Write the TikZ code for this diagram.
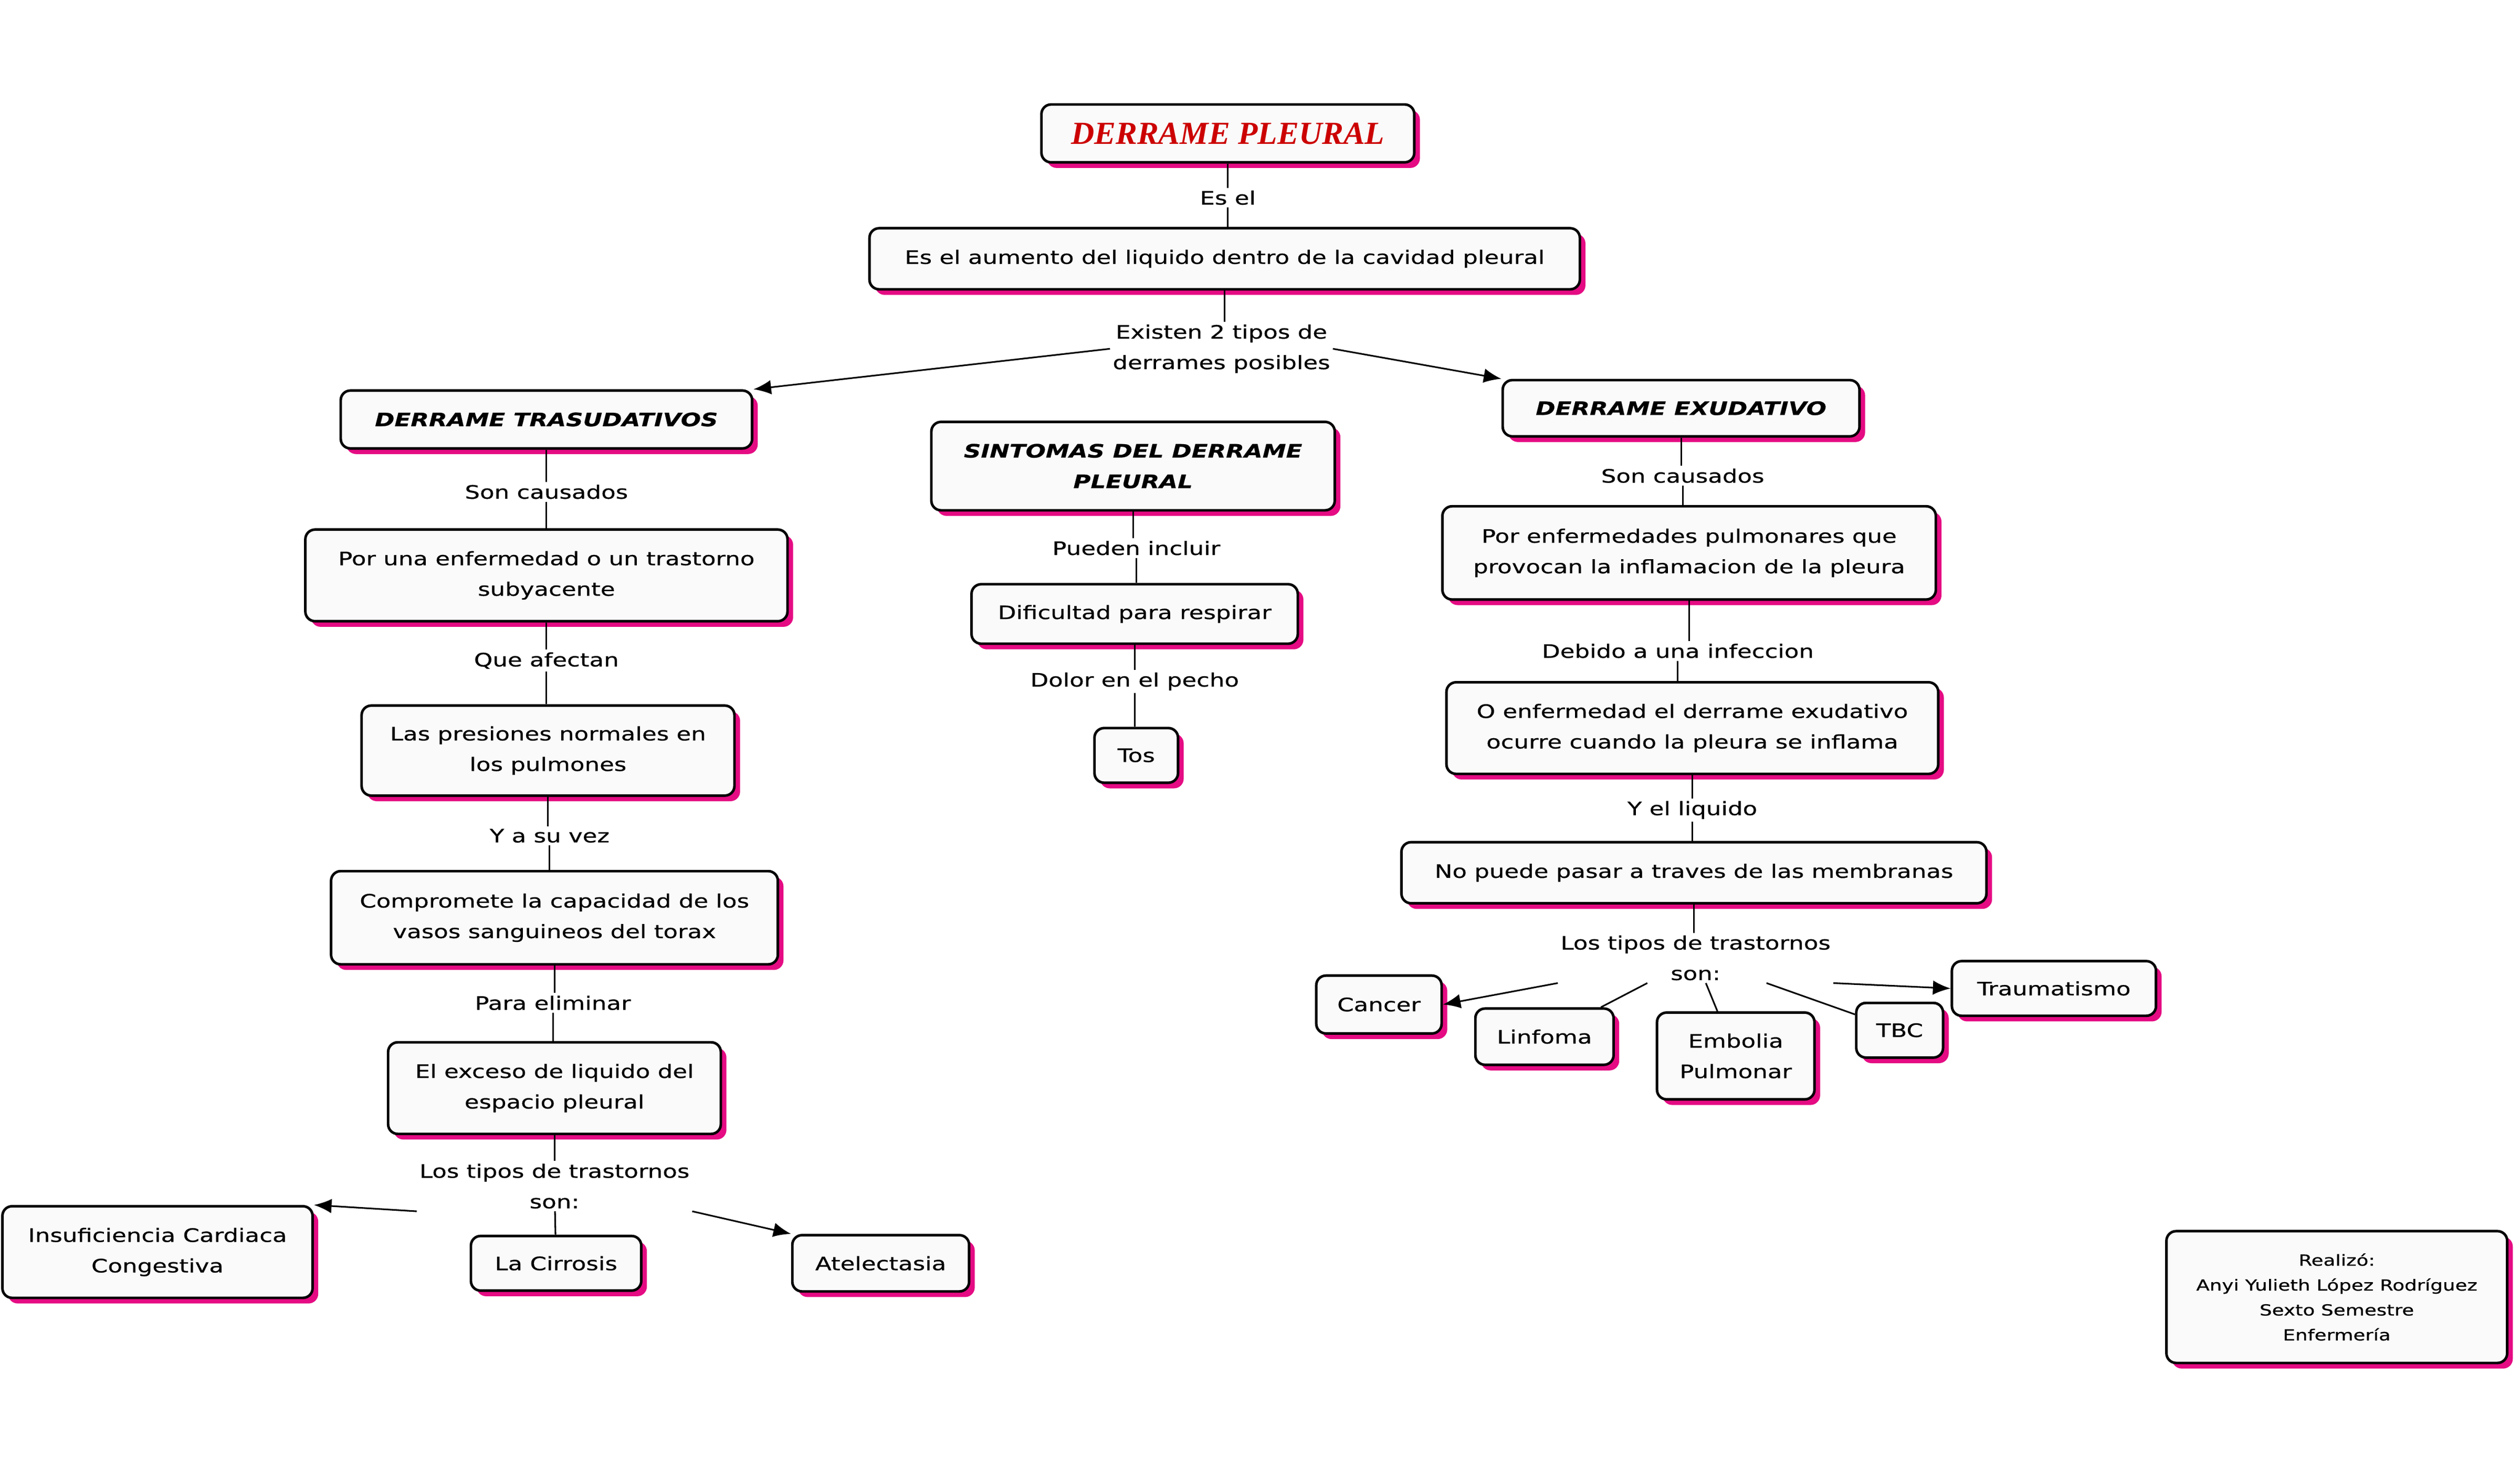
\documentclass[tikz,border=0pt]{standalone}
\usepackage{fontspec}
\setmainfont{DejaVu Sans}[FakeStretch=1.28,FakeBold=0.6]
\newfontfamily\titlefont{Liberation Serif}
\usetikzlibrary{shadows,arrows.meta}
\begin{document}
\begin{tikzpicture}[x=1pt,y=-1pt,
  box/.style={draw=black,line width=1.6pt,rounded corners=6pt,fill=gray!4,align=center,
    inner xsep=7pt,inner ysep=5pt,font=\fontsize{11.5}{19}\selectfont,
    drop shadow={fill=magenta!85!purple,shadow xshift=3.5pt,shadow yshift=-3.5pt,opacity=1}},
  lbl/.style={align=center,font=\fontsize{11.5}{19}\selectfont,inner sep=1.5pt,fill=white},
  ln/.style={line width=1pt},
  arr/.style={line width=1pt,-{Latex[length=11pt,width=9pt]}}]
\useasboundingbox (0,0) rectangle (1568,907);
\node[box,minimum width=232,minimum height=36,font=\titlefont\fontsize{20}{22}\selectfont\bfseries\itshape\color{red!80!black}] (title) at (764,83) {DERRAME PLEURAL};
\node[lbl] (l0) at (764,123) {Es el};
\node[box,minimum width=442,minimum height=38] (def) at (762,161) {Es el aumento del liquido dentro de la cavidad pleural};
\node[lbl] (l1) at (760,217) {Existen 2 tipos de\\derrames posibles};
\node[box,minimum width=256,minimum height=36,font=\fontsize{11.5}{19}\selectfont\bfseries\itshape] (tras) at (340,261) {DERRAME TRASUDATIVOS};
\node[box,minimum width=222,minimum height=35,font=\fontsize{11.5}{19}\selectfont\bfseries\itshape] (exu) at (1046,254) {DERRAME EXUDATIVO};
\node[box,minimum width=251,minimum height=55,font=\fontsize{11.5}{19}\selectfont\bfseries\itshape] (sin) at (705,290) {SINTOMAS DEL DERRAME\\PLEURAL};
% left
\node[lbl] (a1) at (340,306) {Son causados};
\node[box,minimum width=300,minimum height=57] (b1) at (340,358) {Por una enfermedad o un trastorno\\subyacente};
\node[lbl] (a2) at (340,411) {Que afectan};
\node[box,minimum width=232,minimum height=56] (b2) at (341,467) {Las presiones normales en\\los pulmones};
\node[lbl] (a3) at (342,520) {Y a su vez};
\node[box,minimum width=278,minimum height=58] (b3) at (345,571) {Compromete la capacidad de los\\vasos sanguineos del torax};
\node[lbl] (a4) at (344,624) {Para eliminar};
\node[box,minimum width=207,minimum height=57] (b4) at (345,677) {El exceso de liquido del\\espacio pleural};
\node[lbl] (a5) at (345,738) {Los tipos de trastornos\\son:};
\node[box,minimum width=193,minimum height=57] (c1) at (98,779) {Insuficiencia Cardiaca\\Congestiva};
\node[box,minimum width=106,minimum height=34] (c2) at (346,786) {La Cirrosis};
\node[box,minimum width=110,minimum height=35] (c3) at (548,786) {Atelectasia};
% middle
\node[lbl] (m1) at (707,341) {Pueden incluir};
\node[box,minimum width=203,minimum height=37] (d1) at (706,382) {Dificultad para respirar};
\node[lbl] (m2) at (706,424) {Dolor en el pecho};
\node[box,minimum width=52,minimum height=34] (d2) at (707,470) {Tos};
% right
\node[lbl] (r1) at (1047,296) {Son causados};
\node[box,minimum width=307,minimum height=58] (e1) at (1051,344) {Por enfermedades pulmonares que\\provocan la inflamacion de la pleura};
\node[lbl] (r2) at (1044,405) {Debido a una infeccion};
\node[box,minimum width=306,minimum height=57] (e2) at (1053,453) {O enfermedad el derrame exudativo\\ocurre cuando la pleura se inflama};
\node[lbl] (r3) at (1053,504) {Y el liquido};
\node[box,minimum width=364,minimum height=38] (e3) at (1054,543) {No puede pasar a traves de las membranas};
\node[lbl] (r4) at (1055,596) {Los tipos de trastornos\\son:};
\node[box,minimum width=78,minimum height=36] (f1) at (858,625) {Cancer};
\node[box,minimum width=86,minimum height=35] (f2) at (961,645) {Linfoma};
\node[box,minimum width=98,minimum height=54] (f3) at (1080,657) {Embolia\\Pulmonar};
\node[box,minimum width=54,minimum height=34] (f4) at (1182,641) {TBC};
\node[box,minimum width=127,minimum height=34] (f5) at (1278,615) {Traumatismo};
\node[box,minimum width=212,minimum height=82,font=\fontsize{9.5}{15.5}\selectfont] (cred) at (1454,807) {Realizó:\\Anyi Yulieth López Rodríguez\\Sexto Semestre\\Enfermería};
% connectors
\draw[ln] (title) -- (title|-l0.north); \draw[ln] (l0) -- (l0|-def.north);
\draw[ln] (def) -- (def|-l1.north);
\draw[arr] (l1.west) -- (tras.north east);
\draw[arr] (l1.east) -- (exu.north west);
\draw[ln] (tras) -- (tras|-a1.north); \draw[ln] (a1) -- (a1|-b1.north);
\draw[ln] (b1) -- (b1|-a2.north); \draw[ln] (a2) -- (a2|-b2.north);
\draw[ln] (b2) -- (b2|-a3.north); \draw[ln] (a3) -- (a3|-b3.north);
\draw[ln] (b3) -- (b3|-a4.north); \draw[ln] (a4) -- (a4|-b4.north);
\draw[ln] (b4) -- (b4|-a5.north);
\draw[arr] (a5.south west) -- (c1.north east);
\draw[ln] (a5) -- (c2);
\draw[arr] (a5.south east) -- (c3.north west);
\draw[ln] (sin) -- (sin|-m1.north); \draw[ln] (m1) -- (m1|-d1.north);
\draw[ln] (d1) -- (d1|-m2.north); \draw[ln] (m2) -- (m2|-d2.north);
\draw[ln] (exu) -- (exu|-r1.north); \draw[ln] (r1) -- (r1|-e1.north);
\draw[ln] (e1) -- (e1|-r2.north); \draw[ln] (r2) -- (r2|-e2.north);
\draw[ln] (e2) -- (e2|-r3.north); \draw[ln] (r3) -- (r3|-e3.north);
\draw[ln] (e3) -- (e3|-r4.north);
\draw[arr] (r4.south west) -- (f1.east);
\draw[ln] (r4) -- (f2);
\draw[ln] (r4) -- (f3);
\draw[ln] (r4) -- (f4);
\draw[arr] (r4.south east) -- (f5.west);
\end{tikzpicture}
\end{document}
